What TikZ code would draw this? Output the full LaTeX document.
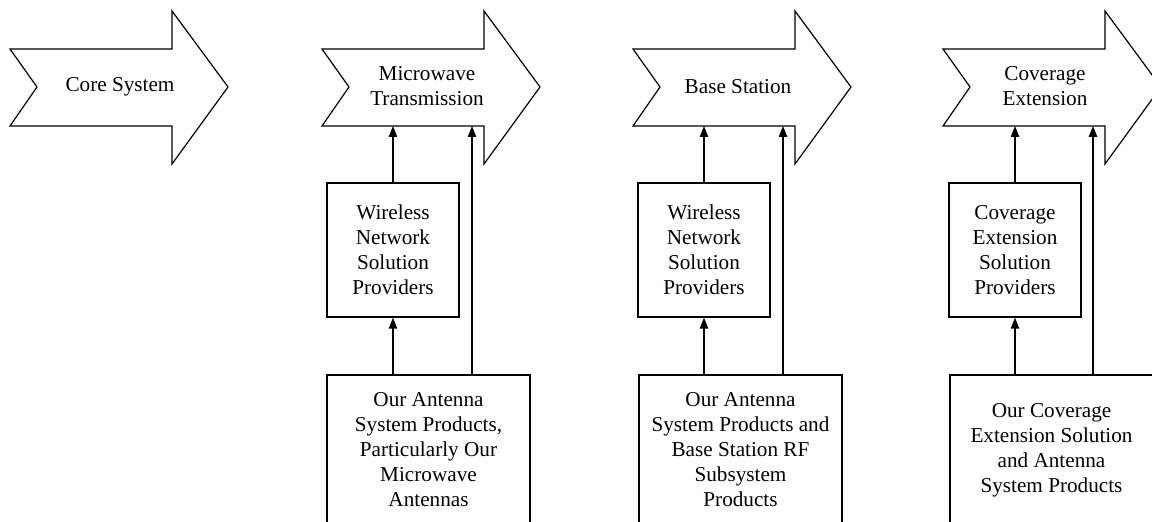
\documentclass[tikz,border=0pt]{standalone}
\usepackage{fontspec}
\setmainfont{Liberation Serif}
\usetikzlibrary{arrows.meta}

\begin{document}
\begin{tikzpicture}[x=0.5pt,y=-0.5pt,line width=0.6pt,
        font=\fontsize{10.6}{12.5}\selectfont,
        >={Triangle[width=4.2pt,length=5.5pt]},
        midbox/.style={draw,align=center,minimum width=66pt,minimum height=67pt,inner sep=0pt},
        lowbox/.style={draw,align=center,minimum width=101.5pt,minimum height=75pt,inner sep=0pt}]
    \useasboundingbox (0,0) rectangle (1152,522);
    \clip (0,0) rectangle (1152,522);
    % the four big arrows
    \draw (10,49) -- ++(162,0) -- ++(0,-38) -- ++(56,76) -- ++(-56,77) -- ++(0,-38) -- ++(-162,0) -- ++(27,-39) -- cycle;
    \draw (322,49) -- ++(162,0) -- ++(0,-38) -- ++(56,76) -- ++(-56,77) -- ++(0,-38) -- ++(-162,0) -- ++(27,-39) -- cycle;
    \draw (633,49) -- ++(162,0) -- ++(0,-38) -- ++(56,76) -- ++(-56,77) -- ++(0,-38) -- ++(-162,0) -- ++(27,-39) -- cycle;
    \draw (943,49) -- ++(162,0) -- ++(0,-38) -- ++(56,76) -- ++(-56,77) -- ++(0,-38) -- ++(-162,0) -- ++(27,-39) -- cycle;
    \node (core) at (120,87) {Core System};
    \node[align=center] (micro) at (427,86) {Microwave\\Transmission};
    \node (base) at (738,87) {Base Station};
    \node[align=center] (cover) at (1045,86) {Coverage\\Extension};
    \coordinate (micro-in) at (472,126);
    \coordinate (base-in) at (783,126);
    \coordinate (cover-in) at (1093,126);
    % providers
    \node[midbox] (wns1) at (393,250) {Wireless\\Network\\Solution\\Providers};
    \node[midbox] (wns2) at (704,250) {Wireless\\Network\\Solution\\Providers};
    \node[midbox] (ces) at (1015,250) {Coverage\\Extension\\Solution\\Providers};
    % products
    \node[lowbox] (ant1) at (428.5,450) {Our Antenna\\System Products,\\Particularly Our\\Microwave\\Antennas};
    \node[lowbox] (ant2) at (740.5,450) {Our Antenna\\System Products and\\Base Station RF\\Subsystem\\Products};
    \node[lowbox] (ant3) at (1051.5,450) {Our Coverage\\Extension Solution\\and Antenna\\System Products};
    \draw[->] (wns1.north) -- (wns1.north |- micro-in);
    \draw[->] (ant1.north -| wns1) -- (wns1.south);
    \draw[->] (ant1.north -| micro-in) -- (micro-in);
    \draw[->] (wns2.north) -- (wns2.north |- base-in);
    \draw[->] (ant2.north -| wns2) -- (wns2.south);
    \draw[->] (ant2.north -| base-in) -- (base-in);
    \draw[->] (ces.north) -- (ces.north |- cover-in);
    \draw[->] (ant3.north -| ces) -- (ces.south);
    \draw[->] (ant3.north -| cover-in) -- (cover-in);
\end{tikzpicture}
\end{document}
